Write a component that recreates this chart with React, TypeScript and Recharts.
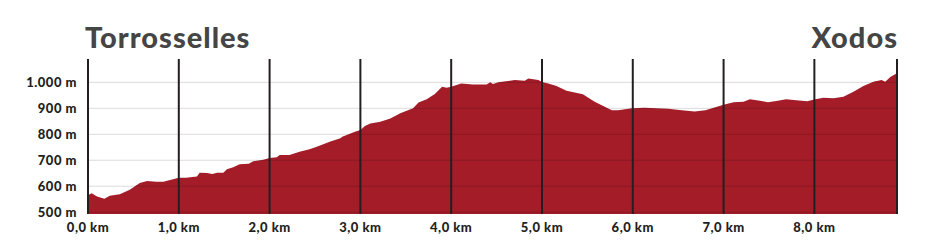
import React from "react";
import {
  AreaChart,
  Area,
  XAxis,
  YAxis,
  ReferenceLine,
} from "recharts";

// elevation profile Torrosselles -> Xodos
const distanceKm = [
  0, 0.04, 0.1, 0.18, 0.24, 0.35, 0.46, 0.57, 0.65, 0.75, 0.83, 1.0, 1.08, 1.2,
  1.23, 1.31, 1.37, 1.42, 1.49, 1.53, 1.6, 1.67, 1.77, 1.82, 1.93, 2.0, 2.08,
  2.11, 2.22, 2.33, 2.44, 2.52, 2.67, 2.78, 2.8, 2.94, 3.0, 3.05, 3.11, 3.22,
  3.33, 3.44, 3.58, 3.64, 3.73, 3.82, 3.9, 3.95, 4.0, 4.11, 4.24, 4.39, 4.43,
  4.46, 4.52, 4.7, 4.81, 4.85, 4.96, 5.0, 5.07, 5.16, 5.27, 5.45, 5.58, 5.77,
  5.84, 5.99, 6.13, 6.39, 6.54, 6.68, 6.8, 7.0, 7.11, 7.22, 7.29, 7.4, 7.49,
  7.58, 7.69, 7.8, 7.92, 8.01, 8.1, 8.21, 8.32, 8.43, 8.54, 8.65, 8.74, 8.78,
  8.84, 8.91,
];

const elevationM = [
  565, 573, 560, 552, 563, 569, 586, 612, 620, 617, 617, 633, 633, 637, 652,
  651, 647, 652, 652, 665, 673, 685, 687, 696, 702, 709, 712, 720, 720, 733,
  742, 752, 772, 785, 791, 810, 817, 832, 842, 848, 861, 881, 900, 922, 935,
  955, 983, 979, 983, 996, 992, 992, 1000, 994, 1000, 1009, 1006, 1015, 1009,
  1001, 996, 986, 968, 954, 925, 893, 893, 900, 902, 898, 893, 888, 893, 914,
  923, 925, 935, 929, 923, 928, 935, 931, 927, 935, 941, 939, 945, 964, 986,
  1002, 1009, 1002, 1022, 1035,
];

const kmTicks = [0, 1, 2, 3, 4, 5, 6, 7, 8];
const elevTicks = [500, 600, 700, 800, 900, 1000];
const startName = "Torrosselles";
const endName = "Xodos";

const data = distanceKm.map((d, i) => ({ km: d, ele: elevationM[i] }));
const totalKm = distanceKm[distanceKm.length - 1];

const fmtKm = (v: number) => v.toFixed(1).replace(".", ",") + " km";
const fmtM = (v: number) =>
  v.toString().replace(/\B(?=(\d{3})+(?!\d))/g, ".") + " m";

const font = "Lato, 'Open Sans', sans-serif";
const tickStyle = {
  fontFamily: font,
  fontWeight: 900,
  fontSize: 13,
  fill: "#231f20",
  letterSpacing: 0.5,
};

const titleStyle: React.CSSProperties = {
  position: "absolute",
  top: 19,
  fontFamily: font,
  fontWeight: 900,
  fontSize: 29,
  letterSpacing: 1,
  color: "#454545",
  lineHeight: "36px",
};

export default function App() {
  return (
    <div style={{ position: "absolute", left: 0, top: 0, width: 930, height: 250, background: "#fff" }}>
      <div style={{ ...titleStyle, left: 85 }}>{startName}</div>
      <div style={{ ...titleStyle, right: 32 }}>{endName}</div>
      <AreaChart
        width={930}
        height={250}
        data={data}
        margin={{ top: 59, right: 33, left: 0, bottom: 0 }}
      >
        <XAxis
          dataKey="km"
          type="number"
          domain={[0, totalKm]}
          ticks={kmTicks}
          tickFormatter={fmtKm}
          axisLine={false}
          tickLine={false}
          tickSize={0}
          tickMargin={9}
          height={36}
          tick={tickStyle}
        />
        <YAxis
          type="number"
          domain={[493, 1090]}
          ticks={elevTicks}
          tickFormatter={fmtM}
          axisLine={false}
          tickLine={false}
          tickSize={0}
          tickMargin={11}
          width={88}
          allowDataOverflow
          tick={tickStyle}
        />
        <Area
          type="linear"
          dataKey="ele"
          stroke="none"
          fill="#a31c28"
          fillOpacity={1}
          baseValue="dataMin"
          isAnimationActive={false}
        />
        {elevTicks.map((v) => (
          <ReferenceLine key={"h" + v} y={v} stroke="rgba(0,0,0,0.14)" strokeWidth={1} />
        ))}
        {[...kmTicks, totalKm].map((v) => (
          <ReferenceLine key={"v" + v} x={v} stroke="#231f20" strokeWidth={2} />
        ))}
      </AreaChart>
    </div>
  );
}
